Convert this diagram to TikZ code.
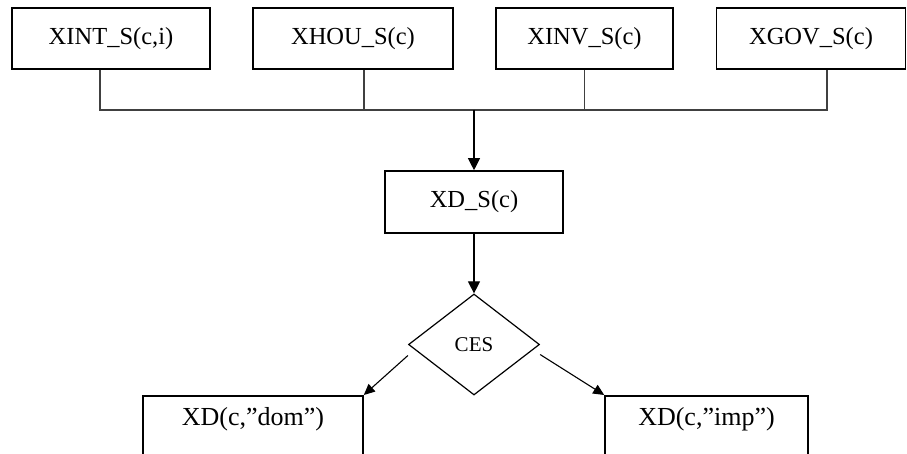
\documentclass[tikz,border=0pt]{standalone}
\usepackage{fontspec}
\setmainfont{Liberation Serif}
\usetikzlibrary{shapes.geometric,arrows.meta}

\begin{document}
\begin{tikzpicture}[
    x=1pt, y=-1pt,
    varbox/.style={rectangle, draw=black, line width=1.6pt, minimum height=61pt, inner sep=0pt, font=\fontsize{24.5}{28}\selectfont},
    outbox/.style={rectangle, draw=black, line width=1.6pt, anchor=north, inner xsep=0pt, inner ysep=11pt, text height=19pt, text depth=35pt, font=\fontsize{26}{30}\selectfont},
    choice/.style={diamond, draw=black, line width=1.2pt, inner sep=0pt, minimum width=131pt, minimum height=101pt, font=\fontsize{21}{25}\selectfont},
    link/.style={line width=1.1pt, draw=black!75},
    arrow/.style={-{Triangle[width=12pt,length=12pt]}, line width=1.1pt, black},
    smallarrow/.style={-{Triangle[width=10pt,length=11pt]}, line width=1.1pt, black}
]
\useasboundingbox (0,0) rectangle (907,454);

% Variables du haut (4 boites)
\node[varbox, minimum width=198pt] (xint) at (111,38.5) {XINT\_S(c,i)};
\node[varbox, minimum width=200pt, line width=2.2pt] (xhou) at (353,38.5) {XHOU\_S(c)};
\node[varbox, minimum width=177pt] (xinv) at (584.5,38.5) {XINV\_S(c)};
\node[varbox, minimum width=189pt] (xgov) at (811,38.5) {XGOV\_S(c)};

% Demande totale et fonction CES
\node[varbox, minimum width=178pt, minimum height=62pt] (xds) at (474,202) {XD\_S(c)};
\node[choice] (ces) at (474,344.5) {CES};

% Demande domestique et importee (coupees en bas)
\node[outbox, minimum width=220pt] (dom) at (253,395) {XD(c,"dom")};
\node[outbox, minimum width=203pt] (imp) at (706.5,395) {XD(c,"imp")};

% Ligne de collecte
\coordinate (bus) at (474,110);
\draw[link] ([xshift=-11pt]xint.south) -- ([xshift=-11pt]xint.south |- bus) -- ([xshift=16pt]xgov.south |- bus) -- ([xshift=16pt]xgov.south);
\draw[link] ([xshift=11pt]xhou.south) -- ([xshift=11pt]xhou.south |- bus);
\draw[link] (xinv.south) -- (xinv.south |- bus);

% Fleches
\draw[arrow] (bus) -- (xds.north);
\draw[arrow] (xds.south) -- (ces.north);
\draw[smallarrow] ([yshift=-11pt]ces.west) -- (dom.north east);
\draw[smallarrow] ([yshift=-10pt]ces.east) -- (imp.north west);

\end{tikzpicture}
\end{document}
